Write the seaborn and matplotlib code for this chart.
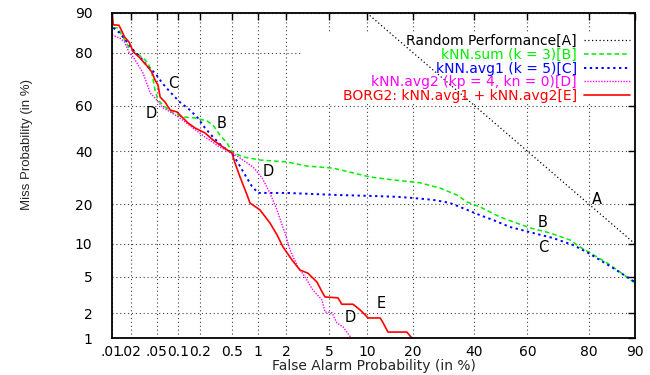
import math
import numpy as np
import pandas as pd
import matplotlib
matplotlib.use("Agg")
import matplotlib.pyplot as plt
import seaborn as sns
from matplotlib.ticker import FixedLocator, FixedFormatter, NullLocator
from matplotlib.patches import Rectangle

# ---------------- data (percent) ----------------
rand_fa = [10, 90]
rand_miss = [90, 10]

sum_fa = [0.0105, 0.0125, 0.015, 0.019, 0.023, 0.031, 0.037, 0.042, 0.047, 0.052,
          0.066, 0.086, 0.118, 0.172, 0.247, 0.295, 0.36, 0.44, 0.506, 0.68,
          1.06, 2.04, 3.18, 5.4, 7.85, 10.5, 15.1, 22.0, 28.0, 33.7,
          37.3, 42.0, 49.6, 54.6, 60.9, 68.0, 74.5, 77.5, 80.3, 84.4, 87.2, 90.0]
sum_miss = [86.8, 86.8, 84.5, 81.4, 80.2, 78.3, 76.6, 73.5, 66.5, 62.4,
            59.4, 56.8, 55.1, 54.6, 53.3, 51.5, 47.1, 43.6, 39.7, 37.6,
            36.3, 35.5, 33.8, 33.0, 31.1, 29.5, 28.4, 27.3, 25.4, 23.0,
            20.7, 19.2, 16.3, 15.0, 13.5, 12.3, 10.8, 9.4, 8.35, 6.8, 5.56, 4.3]

avg1_fa = [0.0105, 0.0135, 0.0175, 0.022, 0.028, 0.037, 0.047, 0.060, 0.078, 0.107,
           0.147, 0.188, 0.233, 0.295, 0.393, 0.506, 0.60, 0.72, 0.86, 1.01,
           2.04, 5.84, 10.5, 16.0, 20.0, 25.8, 31.3, 37.3, 42.0, 46.9,
           53.4, 62.0, 69.0, 75.4, 79.4, 82.8, 85.8, 88.6, 90.0]
avg1_miss = [86.8, 85.5, 83.1, 80.8, 78.6, 75.2, 73.1, 69.3, 65.7, 61.5,
             58.1, 54.6, 50.2, 46.2, 41.8, 39.2, 35.0, 30.3, 26.1, 23.7,
             23.7, 23.0, 22.7, 22.4, 22.0, 21.4, 20.4, 18.3, 16.8, 15.5,
             13.7, 12.3, 11.2, 9.8, 8.5, 7.2, 6.07, 4.96, 4.4]

avg2_fa = [0.01, 0.0135, 0.016, 0.019, 0.022, 0.031, 0.040, 0.047, 0.062, 0.083,
           0.107, 0.161, 0.233, 0.36, 0.48, 0.52, 0.68, 0.89, 1.12, 1.36,
           1.61, 1.86, 1.95, 2.18, 2.61, 3.05, 3.6, 4.35, 4.62, 5.3,
           5.84, 6.55, 7.6]
avg2_miss = [85.0, 84.2, 83.1, 79.9, 78.6, 73.1, 65.3, 63.2, 59.0, 56.8,
             54.6, 50.2, 46.2, 41.8, 39.7, 39.2, 36.3, 33.4, 29.1, 23.7,
             18.3, 13.5, 12.3, 8.9, 6.2, 4.96, 3.65, 2.85, 2.08, 2.04,
             1.54, 1.38, 1.0]

borg_fa = [0.01, 0.0105, 0.013, 0.016, 0.019, 0.022, 0.027, 0.037, 0.042, 0.047,
           0.052, 0.056, 0.066, 0.078, 0.097, 0.114, 0.139, 0.172, 0.233, 0.295,
           0.393, 0.506, 0.55, 0.63, 0.76, 0.82, 1.06, 1.36, 1.61, 1.86,
           2.29, 2.73, 3.25, 3.93, 4.35, 4.62, 5.96, 6.4, 7.85, 8.9,
           9.7, 10.2, 12.4, 13.0, 14.0, 18.4, 19.7]
borg_miss = [90, 87.5, 87.4, 84.5, 83.0, 80.2, 78.6, 75.2, 73.5, 70.5,
             68.5, 63.6, 61.5, 58.1, 57.3, 55.1, 52.4, 50.2, 48.0, 44.9,
             41.8, 39.2, 35.0, 29.5, 23.0, 20.4, 18.3, 14.7, 11.9, 9.4,
             7.2, 5.8, 5.4, 4.4, 3.5, 3.07, 3.0, 2.55, 2.55, 2.2,
             1.92, 1.77, 1.77, 1.54, 1.19, 1.19, 1.0]

labels = ["Random Performance[A]", "kNN.sum (k = 3)[B]", "kNN.avg1 (k = 5)[C]",
          "kNN.avg2 (kp = 4, kn = 0)[D]", "BORG2: kNN.avg1 + kNN.avg2[E]"]

x_ticks = [0.01, 0.02, 0.05, 0.1, 0.2, 0.5, 1, 2, 5, 10, 20, 40, 60, 80, 90]
x_ticklabels = [".01", ".02", ".05", "0.1", "0.2", "0.5", "1", "2", "5", "10",
                "20", "40", "60", "80", "90"]
y_ticks = [1, 2, 5, 10, 20, 40, 60, 80, 90]
y_ticklabels = ["1", "2", "5", "10", "20", "40", "60", "80", "90"]

# ---------------- probit scale ----------------
_A = [-3.969683028665376e+01, 2.209460984245205e+02, -2.759285104469687e+02,
      1.383577518672690e+02, -3.066479806614716e+01, 2.506628277459239e+00]
_B = [-5.447609879822406e+01, 1.615858368580409e+02, -1.556989798598866e+02,
      6.680131188771972e+01, -1.328068155288572e+01]
_C = [-7.784894002430293e-03, -3.223964580411365e-01, -2.400758277161838e+00,
      -2.549732539343734e+00, 4.374664141464968e+00, 2.938163982698783e+00]
_D = [7.784695709041462e-03, 3.224671290700398e-01, 2.445134137142996e+00,
      3.754408661907416e+00]


def probit(pct):
    arr = np.asarray(pct, dtype=float)
    shape = arr.shape
    p = np.clip(np.atleast_1d(arr).ravel() / 100.0, 1e-9, 1 - 1e-9)
    out = np.empty_like(p)
    plow = 0.02425
    lo = p < plow
    hi = p > 1 - plow
    mid = ~(lo | hi)
    q = np.sqrt(-2 * np.log(p[lo]))
    out[lo] = (((((_C[0]*q+_C[1])*q+_C[2])*q+_C[3])*q+_C[4])*q+_C[5]) / \
        ((((_D[0]*q+_D[1])*q+_D[2])*q+_D[3])*q+1)
    q = np.sqrt(-2 * np.log(1 - p[hi]))
    out[hi] = -(((((_C[0]*q+_C[1])*q+_C[2])*q+_C[3])*q+_C[4])*q+_C[5]) / \
        ((((_D[0]*q+_D[1])*q+_D[2])*q+_D[3])*q+1)
    q = p[mid] - 0.5
    r = q*q
    out[mid] = (((((_A[0]*r+_A[1])*r+_A[2])*r+_A[3])*r+_A[4])*r+_A[5])*q / \
        (((((_B[0]*r+_B[1])*r+_B[2])*r+_B[3])*r+_B[4])*r+1)
    return out.reshape(shape)


_erf = np.vectorize(math.erf, otypes=[float])


def inv_probit(z):
    z = np.asarray(z, dtype=float)
    return 100.0 * 0.5 * (1.0 + _erf(z / math.sqrt(2.0)))


# ---------------- style ----------------
sns.set_theme(style="white")
plt.rcParams["font.family"] = ["DejaVu Sans"]
plt.rcParams["font.size"] = 10

fig = plt.figure(figsize=(6.5, 3.75), dpi=100)
ax = fig.add_axes([112/650, 1-338/375, (635-112)/650, (338-13)/375])

series = [
    (rand_fa, rand_miss, "black", (0, (1, 2)), 0.9),
    (sum_fa, sum_miss, "#00ee00", (0, (3, 2)), 1.1),
    (avg1_fa, avg1_miss, "#0000ff", (0, (1.2, 1.8)), 1.4),
    (avg2_fa, avg2_miss, "#ff00ff", (0, (1, 1)), 1.0),
    (borg_fa, borg_miss, "#ff0000", "-", 1.2),
]
for (fa, miss, col, ls, lw), lab in zip(series, labels):
    df = pd.DataFrame({"fa": fa, "miss": miss})
    sns.lineplot(data=df, x="fa", y="miss", sort=False, estimator=None,
                 color=col, linestyle=ls, linewidth=lw, label=lab, ax=ax,
                 zorder=2)

ax.set_xscale("function", functions=(probit, inv_probit))
ax.set_yscale("function", functions=(probit, inv_probit))
ax.set_xlim(0.01, 90)
ax.set_ylim(1, 90)
ax.xaxis.set_major_locator(FixedLocator(x_ticks))
ax.xaxis.set_major_formatter(FixedFormatter(x_ticklabels))
ax.yaxis.set_major_locator(FixedLocator(y_ticks))
ax.yaxis.set_major_formatter(FixedFormatter(y_ticklabels))
ax.xaxis.set_minor_locator(NullLocator())
ax.yaxis.set_minor_locator(NullLocator())

ax.set_axisbelow(True)
ax.grid(True, color="0.25", linestyle=(0, (1, 2.5)), linewidth=0.8)
ax.tick_params(axis="both", direction="in", length=5, width=1,
               top=True, right=True, colors="black", labelsize=10)
ax.tick_params(axis="x", pad=5)
ax.tick_params(axis="y", pad=14)
for s in ax.spines.values():
    s.set_color("black")
    s.set_linewidth(1.3)
    s.set_zorder(3)
ax.set_xlabel("")
ax.set_ylabel("")

# key background (blanks grid behind the key, as in the reference)
ax.add_patch(Rectangle((0.365, 0.723), 0.635, 0.215, transform=ax.transAxes,
                       facecolor="white", edgecolor="none", zorder=0.8))

handles, labs = ax.get_legend_handles_labels()
leg = ax.legend(handles, labs, loc="upper right", bbox_to_anchor=(0.99, 0.935),
                frameon=False, markerfirst=False, handlelength=3.3,
                handletextpad=0.5, labelspacing=-0.02, borderpad=0,
                borderaxespad=0, labelcolor="linecolor", fontsize=10)

# curve tags
tags = [("A", 82, 21.4), ("B", 65.6, 14.7), ("C", 65.6, 9.4), ("C", 0.086, 69.3),
        ("D", 0.042, 56.4), ("B", 0.383, 52.4), ("D", 1.29, 31.5),
        ("E", 12.6, 2.57), ("D", 7.44, 1.77)]
for t, xx, yy in tags:
    ax.text(xx, yy, t, ha="center", va="center", fontsize=10.5, color="black",
            zorder=4)

fig.text(373.5/650, 1-366/375, "False Alarm Probability (in %)", ha="center",
         va="center", fontsize=10)
fig.text(27/650, 1-144/375, "Miss Probability (in %)", ha="center", va="center",
         rotation=90, fontsize=9.5, family=["Liberation Sans", "DejaVu Sans"])

fig.savefig("out.png", dpi=100)
